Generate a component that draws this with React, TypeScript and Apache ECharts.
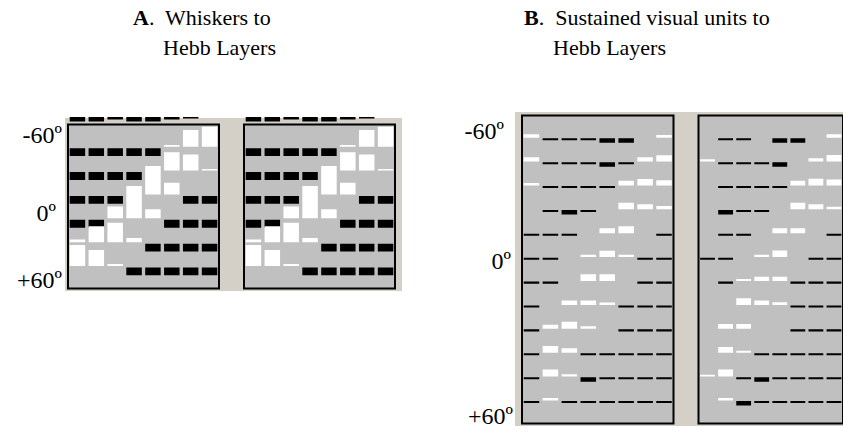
import React, { useEffect, useRef } from "react";
import * as echarts from "echarts";

// ---- Data (values in units of one row spacing; positive = white, negative = black) ----
const COLUMNS = [1, 2, 3, 4, 5, 6, 7, 8];
const K = -0.33; // saturated inhibitory weight (panel A)
const N = -0.085; // weak inhibitory weight (panel B)
const T = -0.19; // stronger inhibitory weight (panel B)

const whiskerRows: number[][] = [
  [K, K, K, K, K, 0.07, 0.7, 0.84],
  [K, K, K, K, 0, 0.77, 0.67, 0.07],
  [K, K, K, 0, 1.19, 0.49, K, K],
  [K, K, 0.49, 1.35, 0.38, K, K, K],
  [0.11, 0.67, 0.81, 0.17, K, K, K, K],
  [0.88, 0.67, 0.08, K, K, K, K, K],
];

// partly hidden row just above the panel-A boxes (fraction of a 5px strip)
const whiskerClippedRow: number[][] = [[-0.9, -0.9, -0.5, -0.9, -0.9, -0.5, -0.3, 0]];

const visualLeftRows: number[][] = [
  [0.14, N, N, N, T, T, 0, 0.11],
  [0.18, N, N, N, T, N, 0.18, 0.27],
  [0.1, N, N, N, N, 0.2, 0.27, 0.22],
  [0, N, T, N, 0, 0.28, 0.21, 0.14],
  [N, N, N, 0, 0.21, 0.29, 0, N],
  [N, N, 0, 0.1, 0.27, 0.1, N, N],
  [N, N, 0, 0.28, 0.28, 0, N, N],
  [N, 0, 0.18, 0.18, 0.1, N, N, N],
  [N, 0.17, 0.29, 0.1, 0, N, N, N],
  [N, 0.28, 0.18, N, N, N, N, N],
  [N, 0.29, 0.1, T, N, N, N, N],
  [N, 0.1, N, N, N, N, N, N],
];

const visualRightRows: number[][] = [
  [0, N, N, 0, T, T, 0, 0.14],
  [0.1, N, N, N, T, 0, 0.14, 0.28],
  [0, N, N, N, N, 0.2, 0.28, 0.25],
  [0, T, N, N, 0, 0.28, 0.21, 0.11],
  [0, N, N, 0, 0.21, 0.21, 0, N],
  [N, N, 0, 0.1, 0.28, 0, N, N],
  [0, N, 0.08, 0.18, 0.18, N, N, N],
  [0, 0, 0.28, 0.18, 0.11, N, N, N],
  [0, 0.2, 0.2, 0, 0, N, N, N],
  [0, 0.24, 0.08, N, N, N, N, N],
  [0.07, 0.29, N, T, N, N, N, N],
  [0, 0.1, T, N, N, N, N, N],
];

const titleA = ["A", ".  Whiskers to", "Hebb Layers"];
const titleB = ["B", ".  Sustained visual units to", "Hebb Layers"];
const angleLabels = ["-60º", "0º", "+60º"];

// ---- helpers ----
function toData(rows: number[][]) {
  const out: number[][] = [];
  rows.forEach((r, ri) =>
    r.forEach((v, ci) => {
      if (v !== 0) out.push([COLUMNS[ci] - 1, ri, v]);
    })
  );
  return out;
}

function makeRender(gap: number) {
  return (params: any, api: any) => {
    const c = api.value(0);
    const r = api.value(1);
    const v = api.value(2);
    const p0 = api.coord([c - 0.41, r]);
    const p1 = api.coord([c + 0.41, r - v]);
    let y0 = Math.min(p0[1], p1[1]);
    const h = Math.abs(p1[1] - p0[1]);
    if (v < 0) y0 += gap;
    return {
      type: "rect",
      shape: {
        x: Math.min(p0[0], p1[0]),
        y: y0,
        width: Math.abs(p1[0] - p0[0]),
        height: h,
      },
      style: { fill: v < 0 ? "#000000" : "#ffffff" },
    };
  };
}

const FONT = '"Liberation Serif", "Times New Roman", serif';

export default function App() {
  const ref = useRef<HTMLDivElement>(null);
  useEffect(() => {
    if (!ref.current) return;
    const chart = echarts.init(ref.current, null, { renderer: "svg" });

    const gridCommon = {
      show: true,
      backgroundColor: "#c0c0c0",
      borderColor: "#000000",
      borderWidth: 2,
      containLabel: false,
    };
    const stripCommon = { show: false, containLabel: false };
    const grids = [
      { ...gridCommon, left: 68, top: 124.5, width: 151, height: 164 },
      { ...gridCommon, left: 244, top: 124.5, width: 151, height: 164 },
      { ...gridCommon, left: 522, top: 115.5, width: 151.5, height: 308 },
      { ...gridCommon, left: 698.5, top: 115.5, width: 151.5, height: 308 },
      { ...stripCommon, left: 68, top: 117, width: 151, height: 5 },
      { ...stripCommon, left: 244, top: 117, width: 151, height: 5 },
    ];
    const yRanges = [
      [-0.93, 5.943],
      [-0.93, 5.943],
      [-0.93, 11.967],
      [-0.93, 11.967],
      [0, 1],
      [0, 1],
    ];
    const xAxis = grids.map((_, i) => ({
      type: "value",
      gridIndex: i,
      min: -0.5,
      max: 7.5,
      show: false,
    }));
    const yAxis = grids.map((_, i) => ({
      type: "value",
      gridIndex: i,
      inverse: true,
      min: yRanges[i][0],
      max: yRanges[i][1],
      show: false,
    }));
    const datasets = [
      whiskerRows,
      whiskerRows,
      visualLeftRows,
      visualRightRows,
      whiskerClippedRow,
      whiskerClippedRow,
    ];
    const gaps = [1.5, 1.5, 0.6, 0.6, 0, 0];
    const series = datasets.map((rows, i) => ({
      type: "custom",
      xAxisIndex: i,
      yAxisIndex: i,
      clip: true,
      z: 5,
      renderItem: makeRender(gaps[i]),
      data: toData(rows),
    }));

    const txt = (text: string, x: number, y: number, size: number, align = "left", rich?: any) => ({
      type: "text",
      z: 10,
      style: {
        text,
        x,
        y,
        fill: "#000",
        font: `${size}px ${FONT}`,
        fontSize: size,
        fontFamily: FONT,
        align,
        verticalAlign: "middle",
        textAlign: align,
        textVerticalAlign: "middle",
        rich,
      },
    });
    const boldRich = { b: { fontWeight: "bold", fontSize: 22, fontFamily: FONT } };

    chart.setOption({
      animation: false,
      backgroundColor: "#ffffff",
      grid: grids,
      xAxis,
      yAxis,
      series,
      graphic: [
        { type: "rect", z: -10, shape: { x: 65, y: 118, width: 337, height: 173 }, style: { fill: "#d4d0c8" } },
        { type: "rect", z: -10, shape: { x: 515, y: 112, width: 328, height: 314 }, style: { fill: "#d4d0c8" } },
        txt(`{b|${titleA[0]}}${titleA[1]}`, 133, 17, 22, "left", boldRich),
        txt(titleA[2], 163, 47, 22),
        txt(`{b|${titleB[0]}}${titleB[1]}`, 524, 17, 22, "left", boldRich),
        txt(titleB[2], 553, 47, 22),
        txt(angleLabels[0], 62, 135, 24, "right"),
        txt(angleLabels[1], 56, 213, 24, "right"),
        txt(angleLabels[2], 62, 280, 24, "right"),
        txt(angleLabels[0], 504, 131, 24, "right"),
        txt(angleLabels[1], 511, 261, 24, "right"),
        txt(angleLabels[2], 513, 416, 24, "right"),
      ],
    });
    return () => chart.dispose();
  }, []);
  return (
    <div
      ref={ref}
      style={{ position: "absolute", left: 0, top: 0, width: 843, height: 430 }}
    />
  );
}
